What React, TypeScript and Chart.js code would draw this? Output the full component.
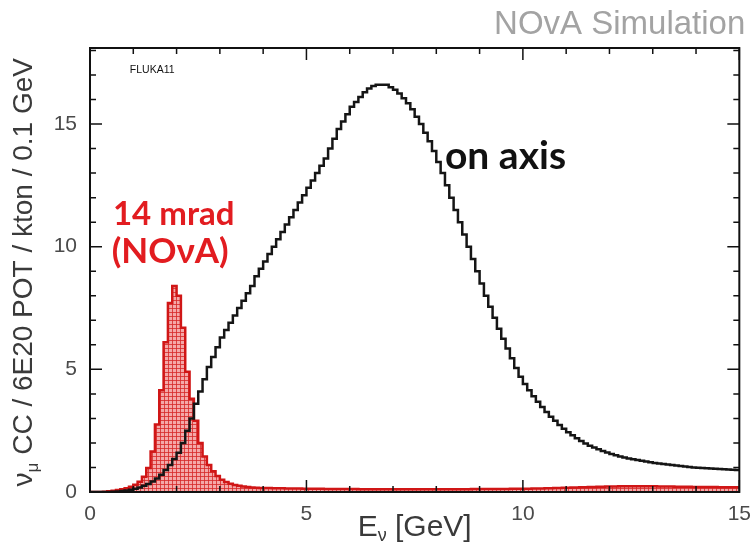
import React, { useEffect, useRef } from 'react';
import { Chart, registerables } from 'chart.js';
Chart.register(...registerables);

// Histogram binning: 150 bins of 0.1 GeV from 0 to 15 GeV
const xMin = 0;
const binWidth = 0.1;
const xMax = 15;
const yMax = 18.1;
const xTickLabels = [0, 5, 10, 15];
const yTickLabels = [0, 5, 10, 15];

// "on axis" spectrum (black), one value per 0.1 GeV bin
const onAxis = [
  0, 0, 0, 0, 0,
  0.01, 0.02, 0.04, 0.06, 0.09,
  0.13, 0.18, 0.25, 0.33, 0.43,
  0.55, 0.7, 0.9, 1.1, 1.35,
  1.6, 2.0, 2.5, 3.0, 3.6,
  4.1, 4.6, 5.1, 5.5, 5.9,
  6.3, 6.6, 6.9, 7.2, 7.5,
  7.8, 8.1, 8.4, 8.8, 9.1,
  9.4, 9.7, 10.0, 10.3, 10.6,
  10.9, 11.2, 11.5, 11.8, 12.1,
  12.4, 12.7, 13.0, 13.3, 13.6,
  14.0, 14.4, 14.8, 15.1, 15.4,
  15.7, 15.9, 16.1, 16.3, 16.45,
  16.55, 16.6, 16.6, 16.6, 16.5,
  16.4, 16.25, 16.05, 15.85, 15.6,
  15.3, 15.0, 14.65, 14.3, 13.9,
  13.45, 13.0, 12.5, 12.0, 11.5,
  11.0, 10.5, 10.0, 9.5, 9.0,
  8.5, 8.0, 7.55, 7.1, 6.65,
  6.25, 5.85, 5.45, 5.05, 4.7,
  4.4, 4.15, 3.9, 3.68, 3.46,
  3.26, 3.07, 2.9, 2.73, 2.58,
  2.44, 2.31, 2.19, 2.08, 1.98,
  1.89, 1.81, 1.74, 1.67, 1.61,
  1.55, 1.5, 1.45, 1.41, 1.37,
  1.33, 1.3, 1.27, 1.24, 1.21,
  1.18, 1.16, 1.14, 1.12, 1.1,
  1.08, 1.06, 1.04, 1.02, 1.0,
  0.99, 0.98, 0.97, 0.96, 0.95,
  0.94, 0.93, 0.92, 0.91, 0.9,
];

// 14 mrad off-axis (NOvA) spectrum (red, hatched), one value per 0.1 GeV bin
const offAxis14mrad = [
  0, 0, 0, 0.01, 0.03,
  0.05, 0.08, 0.11, 0.15, 0.21,
  0.3, 0.42, 0.62, 0.98, 1.65,
  2.75, 4.15, 6.1, 7.7, 8.4,
  8.0, 6.7, 4.9, 3.8, 2.9,
  2.0, 1.45, 1.1, 0.85, 0.65,
  0.5, 0.41, 0.34, 0.29, 0.25,
  0.22, 0.2, 0.18, 0.17, 0.16,
  0.16, 0.16, 0.15, 0.15, 0.15,
  0.14, 0.14, 0.14, 0.14, 0.13,
  0.13, 0.13, 0.13, 0.13, 0.12,
  0.12, 0.12, 0.12, 0.12, 0.12,
  0.12, 0.12, 0.11, 0.11, 0.11,
  0.11, 0.11, 0.11, 0.11, 0.11,
  0.11, 0.11, 0.11, 0.11, 0.11,
  0.11, 0.11, 0.11, 0.11, 0.11,
  0.11, 0.11, 0.11, 0.11, 0.11,
  0.11, 0.11, 0.11, 0.12, 0.12,
  0.12, 0.12, 0.12, 0.12, 0.12,
  0.12, 0.12, 0.13, 0.13, 0.13,
  0.13, 0.13, 0.14, 0.14, 0.14,
  0.15, 0.15, 0.16, 0.16, 0.17,
  0.17, 0.18, 0.18, 0.19, 0.19,
  0.2, 0.2, 0.21, 0.21, 0.22,
  0.22, 0.22, 0.23, 0.23, 0.23,
  0.23, 0.23, 0.23, 0.23, 0.23,
  0.23, 0.22, 0.22, 0.22, 0.22,
  0.21, 0.21, 0.21, 0.21, 0.2,
  0.2, 0.2, 0.2, 0.2, 0.2,
  0.19, 0.19, 0.19, 0.19, 0.19,
];

const toSteps = (vals: number[]) => {
  const pts = vals.map((v, i) => ({ x: xMin + i * binWidth, y: v }));
  pts.push({ x: xMin + vals.length * binWidth, y: vals[vals.length - 1] });
  return pts;
};

const SANS = '"Liberation Sans", Arial, sans-serif';
const BOLD = '"Lato", "Open Sans", sans-serif';

const rootStyle = {
  id: 'rootStyle',
  afterDraw(chart: any) {
    const { ctx, chartArea: a } = chart;
    const xs = chart.scales.x;
    const ys = chart.scales.y;
    ctx.save();
    // inside ticks, all four sides
    ctx.strokeStyle = '#111';
    ctx.lineWidth = 1.5;
    ctx.beginPath();
    for (let v = 0; v <= xMax; v += 1) {
      const px = xs.getPixelForValue(v);
      const len = v % 5 === 0 ? 12 : 6;
      ctx.moveTo(px, a.bottom);
      ctx.lineTo(px, a.bottom - len);
      ctx.moveTo(px, a.top);
      ctx.lineTo(px, a.top + len);
    }
    for (let v = 0; v <= yMax; v += 1) {
      const py = ys.getPixelForValue(v);
      const len = v % 5 === 0 ? 12 : 6;
      ctx.moveTo(a.left, py);
      ctx.lineTo(a.left + len, py);
      ctx.moveTo(a.right, py);
      ctx.lineTo(a.right - len, py);
    }
    ctx.stroke();
    // frame
    ctx.lineWidth = 2;
    ctx.strokeRect(a.left, a.top, a.right - a.left, a.bottom - a.top);

    const drawPieces = (pieces: any[], x0: number, y0: number, align: string) => {
      let total = 0;
      pieces.forEach((p) => {
        ctx.font = p.font;
        total += ctx.measureText(p.t).width;
      });
      let x = align === 'center' ? x0 - total / 2 : align === 'right' ? x0 - total : x0;
      pieces.forEach((p) => {
        ctx.font = p.font;
        ctx.fillStyle = p.color;
        ctx.textAlign = 'left';
        ctx.textBaseline = 'alphabetic';
        ctx.fillText(p.t, x, y0 + (p.dy || 0));
        x += ctx.measureText(p.t).width;
      });
    };
    const big = `28px ${SANS}`;
    const sub = `17px ${SANS}`;
    const tc = '#3a3a3a';
    // x title: E_nu [GeV]
    drawPieces(
      [
        { t: 'E', font: `30px ${SANS}`, color: tc },
        { t: 'ν', font: `18px ${SANS}`, color: tc, dy: 5 },
        { t: ' [GeV]', font: `30px ${SANS}`, color: tc },
      ],
      (a.left + a.right) / 2,
      536,
      'center'
    );
    // y title (rotated)
    ctx.save();
    ctx.translate(32, a.top + 10);
    ctx.rotate(-Math.PI / 2);
    drawPieces(
      [
        { t: 'ν', font: big, color: tc },
        { t: 'μ', font: sub, color: tc, dy: 6 },
        { t: ' CC / 6E20 POT / kton / 0.1 GeV', font: big, color: tc },
      ],
      0,
      0,
      'right'
    );
    ctx.restore();

    // annotations
    ctx.textBaseline = 'middle';
    ctx.textAlign = 'left';
    ctx.fillStyle = '#111';
    ctx.font = `10.5px ${SANS}`;
    ctx.fillText('FLUKA11', xs.getPixelForValue(0.92), ys.getPixelForValue(17.2));
    ctx.font = `bold 39px ${BOLD}`;
    ctx.fillStyle = '#111';
    ctx.fillText('on axis', xs.getPixelForValue(8.2), ys.getPixelForValue(13.7));
    ctx.fillStyle = 'rgb(226,28,32)';
    ctx.font = `bold 33px ${BOLD}`;
    ctx.fillText('14 mrad', xs.getPixelForValue(0.53), ys.getPixelForValue(11.3));
    ctx.font = `bold 35px ${BOLD}`;
    ctx.fillText('(NOνA)', xs.getPixelForValue(0.5), ys.getPixelForValue(9.8));
    // header
    ctx.fillStyle = '#a3a3a3';
    ctx.font = `33px ${SANS}`;
    ctx.textAlign = 'right';
    ctx.textBaseline = 'alphabetic';
    ctx.fillText('NOvA Simulation', a.right + 6, a.top - 14);
    ctx.restore();
  },
};

export default function App() {
  const ref = useRef<HTMLCanvasElement | null>(null);
  useEffect(() => {
    const canvas = ref.current!;
    const ctx = canvas.getContext('2d')!;
    const pc = document.createElement('canvas');
    pc.width = 4;
    pc.height = 4;
    const p = pc.getContext('2d')!;
    p.fillStyle = 'rgb(244,168,168)';
    p.fillRect(0, 0, 4, 4);
    p.fillStyle = 'rgba(214,40,40,0.8)';
    p.fillRect(0, 0, 4, 1);
    p.fillRect(0, 0, 1, 4);
    const pattern = ctx.createPattern(pc, 'repeat');

    const chart = new Chart(canvas, {
      type: 'line',
      data: {
        datasets: [
          {
            label: 'on axis',
            data: toSteps(onAxis),
            borderColor: '#151515',
            borderWidth: 2.5,
            stepped: true,
            pointRadius: 0,
            fill: false,
            order: 0,
          },
          {
            label: '14 mrad (NOvA)',
            data: toSteps(offAxis14mrad),
            borderColor: 'rgb(208,22,22)',
            borderWidth: 2.5,
            backgroundColor: pattern as any,
            stepped: true,
            pointRadius: 0,
            fill: 'origin',
            order: 1,
          },
        ],
      },
      options: {
        responsive: false,
        animation: false,
        layout: { padding: { top: 48, right: 13, left: 0, bottom: 0 } },
        plugins: { legend: { display: false }, tooltip: { enabled: false } },
        scales: {
          x: {
            type: 'linear',
            min: xMin,
            max: xMax,
            grid: { display: false },
            border: { display: false },
            afterBuildTicks: (s: any) => {
              s.ticks = xTickLabels.map((v) => ({ value: v }));
            },
            afterFit: (s: any) => {
              s.height = 56;
            },
            ticks: {
              padding: 2,
              maxRotation: 0,
              color: '#4a4a4a',
              font: { family: SANS, size: 21 },
            },
          },
          y: {
            type: 'linear',
            min: 0,
            max: yMax,
            grid: { display: false },
            border: { display: false },
            afterBuildTicks: (s: any) => {
              s.ticks = yTickLabels.map((v) => ({ value: v }));
            },
            afterFit: (s: any) => {
              s.width = 90;
            },
            ticks: {
              padding: 5,
              color: '#4a4a4a',
              font: { family: SANS, size: 21 },
            },
          },
        },
      },
      plugins: [rootStyle],
    });
    return () => chart.destroy();
  }, []);
  return (
    <div style={{ position: 'absolute', left: 0, top: 0, width: 753, height: 548, background: '#fff' }}>
      <canvas ref={ref} width={753} height={548} style={{ width: 753, height: 548, display: 'block' }} />
    </div>
  );
}
